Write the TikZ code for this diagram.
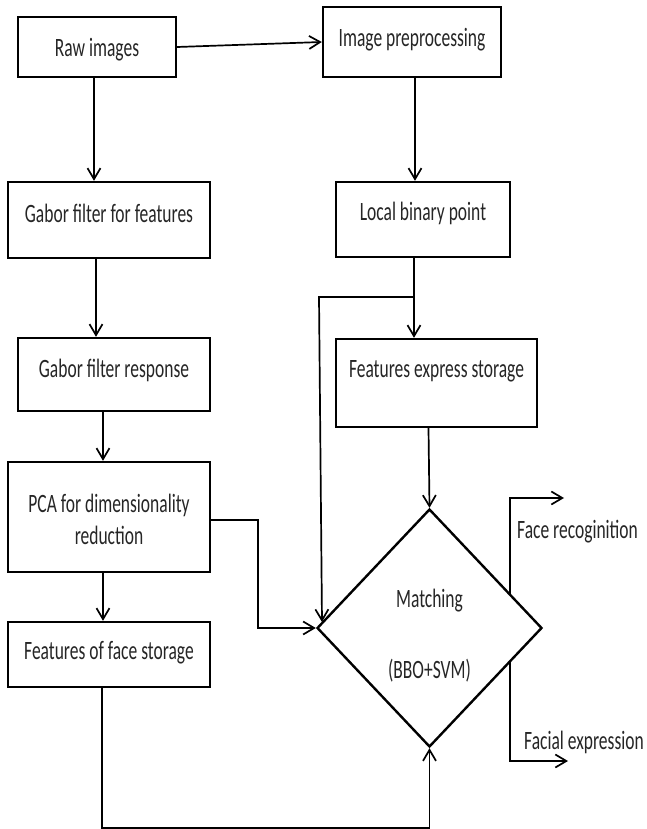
\documentclass[tikz,border=0pt]{standalone}
\usepackage{fontspec}
\setmainfont{Carlito}[FakeStretch=0.66]
\usetikzlibrary{arrows.meta,shapes.geometric}
\begin{document}
\tikzset{
  box/.style={draw, line width=2.4pt, rectangle, inner sep=0pt},
  txt/.style={font=\fontsize{26.5}{32}\selectfont, text=black!85, align=center, inner sep=0pt},
  conn/.style={line width=1.7pt, -{Straight Barb[length=11pt,width=13pt]}},
}
\begin{tikzpicture}[x=1pt,y=-1pt]
\useasboundingbox (0,0) rectangle (647,829);
% boxes
\node[box, minimum width=158pt, minimum height=60pt, label={[txt,yshift=-3pt]center:Raw images}] (raw) at (97,47) {};
\node[box, minimum width=178pt, minimum height=70pt, label={[txt,yshift=2pt]center:Image preprocessing}] (pre) at (412,42) {};
\node[box, minimum width=202pt, minimum height=76pt, label={[txt,yshift=7pt]center:Gabor filter for features}] (gff) at (109,220) {};
\node[box, minimum width=174pt, minimum height=75pt, label={[txt,yshift=6.5pt]center:Local binary point}] (lbp) at (423,219.5) {};
\node[box, minimum width=192pt, minimum height=73pt, label={[txt,yshift=4.5pt]center:Gabor filter response}] (gfr) at (114,374.5) {};
\node[box, minimum width=201pt, minimum height=88pt, label={[txt,yshift=12pt]center:Features express storage}] (fes) at (436.5,383) {};
\node[box, minimum width=202pt, minimum height=110pt, label={[txt,yshift=-2pt]center:{PCA for dimensionality\\reduction}}] (pca) at (109,517) {};
\node[box, minimum width=202pt, minimum height=65pt, label={[txt,yshift=1.5pt]center:Features of face storage}] (fofs) at (109,654.5) {};
\node[draw, diamond, line width=2.4pt, minimum width=225pt, minimum height=238pt, inner sep=0pt,
      label={[txt,yshift=27.5pt]center:Matching}, label={[txt,yshift=-42.5pt]center:(BBO+SVM)}] (dia) at (429.5,628) {};
% connectors
\draw[conn] (raw.east) -- (pre.west);
\draw[conn] ([xshift=-3pt]raw.south) -- ([xshift=-3pt]raw.south |- gff.north);
\draw[conn] ([xshift=3pt]pre.south) -- ([xshift=3pt]pre.south |- lbp.north);
\draw[conn] ([xshift=-13pt]gff.south) -- ([xshift=-13pt]gff.south |- gfr.north);
\draw[conn] ([xshift=-11pt]gfr.south) -- ([xshift=-11pt]gfr.south |- pca.north);
\draw[conn] ([xshift=-6pt]pca.south) -- ([xshift=-6pt]pca.south |- fofs.north);
\draw[conn] ([xshift=-9pt]lbp.south) -- ([xshift=-9pt]lbp.south |- fes.north);
\coordinate (br) at (414,297);
\coordinate (brl) at (319,297);
\coordinate (dtl) at (322,622);
\draw[conn] (br) -- (brl) -- (dtl);
\draw[conn] ([yshift=-3pt]pca.east) -- ++(47,0) |- (dia.west);
\draw[conn] ([xshift=-1pt]fes.south -| dia.north) -- (dia.north);
\draw[conn] ([xshift=-7pt]fofs.south) -- ++(0,140) -| (dia.south);
\coordinate (fr0) at (510,594);
\coordinate (fr1) at (564,498);
\draw[conn] (fr0) |- (fr1);
\coordinate (fe0) at (510,662);
\coordinate (fe1) at (568,761);
\draw[conn] (fe0) |- (fe1);
\node[txt, anchor=west] (frl) at (517,532) {Face recoginition};
\node[txt, anchor=west] (fel) at (524,742) {Facial expression};
\end{tikzpicture}
\end{document}
